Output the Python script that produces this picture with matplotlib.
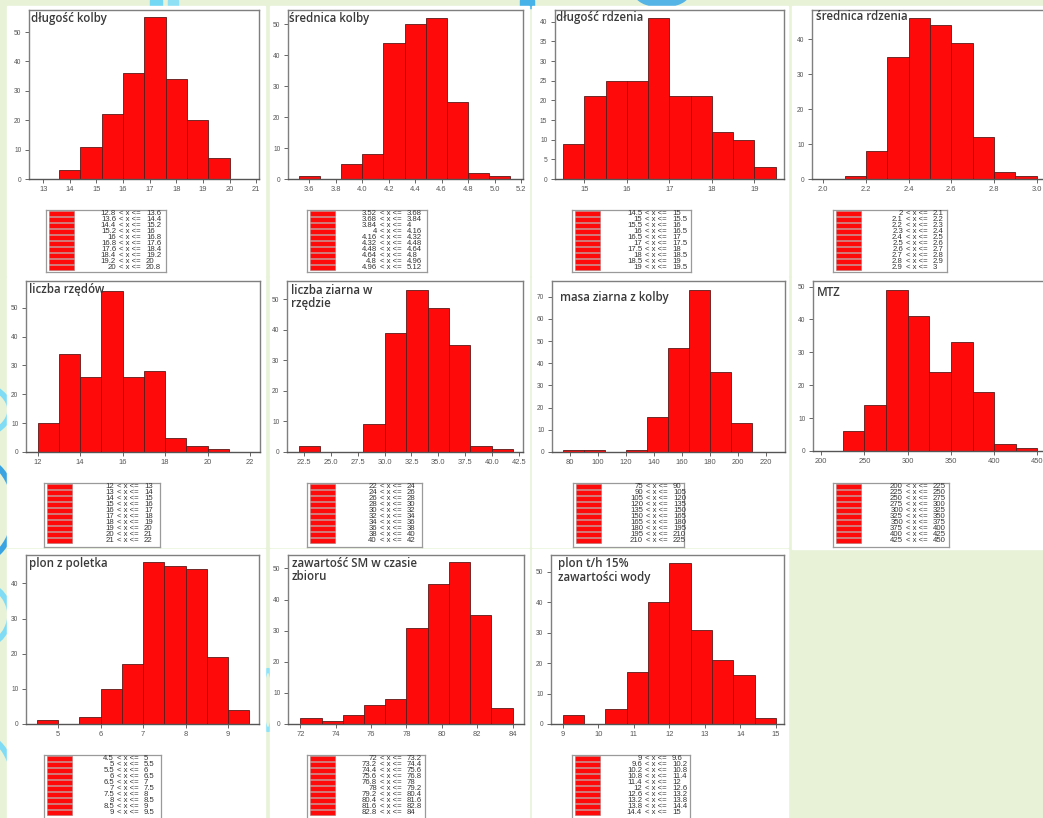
import matplotlib
matplotlib.use("Agg")
import matplotlib.pyplot as plt
from matplotlib.patches import Rectangle, Ellipse

W, H = 1043, 818

# ---------------- data: bin edges and counts of each histogram ----------------
dlugosc_kolby_edges = [12.8, 13.6, 14.4, 15.2, 16, 16.8, 17.6, 18.4, 19.2, 20, 20.8]
dlugosc_kolby_counts = [0, 3, 11, 22, 36, 55, 34, 20, 7, 0]
dlugosc_kolby_xticks = [13, 14, 15, 16, 17, 18, 19, 20, 21]
dlugosc_kolby_yticks = [0, 10, 20, 30, 40, 50]

srednica_kolby_edges = [3.52, 3.68, 3.84, 4, 4.16, 4.32, 4.48, 4.64, 4.8, 4.96, 5.12]
srednica_kolby_counts = [1, 0, 5, 8, 44, 50, 52, 25, 2, 1]
srednica_kolby_xticks = [3.6, 3.8, 4.0, 4.2, 4.4, 4.6, 4.8, 5.0, 5.2]
srednica_kolby_yticks = [0, 10, 20, 30, 40, 50]

dlugosc_rdzenia_edges = [14.5, 15, 15.5, 16, 16.5, 17, 17.5, 18, 18.5, 19, 19.5]
dlugosc_rdzenia_counts = [9, 21, 25, 25, 41, 21, 21, 12, 10, 3]
dlugosc_rdzenia_xticks = [15, 16, 17, 18, 19]
dlugosc_rdzenia_yticks = [0, 5, 10, 15, 20, 25, 30, 35, 40]

srednica_rdzenia_edges = [2, 2.1, 2.2, 2.3, 2.4, 2.5, 2.6, 2.7, 2.8, 2.9, 3]
srednica_rdzenia_counts = [0, 1, 8, 35, 46, 44, 39, 12, 2, 1]
srednica_rdzenia_xticks = [2.0, 2.2, 2.4, 2.6, 2.8, 3.0]
srednica_rdzenia_yticks = [0, 10, 20, 30, 40]

liczba_rzedow_edges = [12, 13, 14, 15, 16, 17, 18, 19, 20, 21, 22]
liczba_rzedow_counts = [10, 34, 26, 56, 26, 28, 5, 2, 1, 0]
liczba_rzedow_xticks = [12, 14, 16, 18, 20, 22]
liczba_rzedow_yticks = [0, 10, 20, 30, 40, 50]

liczba_ziarna_edges = [22, 24, 26, 28, 30, 32, 34, 36, 38, 40, 42]
liczba_ziarna_counts = [2, 0, 0, 9, 39, 53, 47, 35, 2, 1]
liczba_ziarna_xticks = [22.5, 25.0, 27.5, 30.0, 32.5, 35.0, 37.5, 40.0, 42.5]
liczba_ziarna_yticks = [0, 10, 20, 30, 40, 50]

masa_ziarna_edges = [75, 90, 105, 120, 135, 150, 165, 180, 195, 210, 225]
masa_ziarna_counts = [1, 1, 0, 1, 16, 47, 73, 36, 13, 0]
masa_ziarna_xticks = [80, 100, 120, 140, 160, 180, 200, 220]
masa_ziarna_yticks = [0, 10, 20, 30, 40, 50, 60, 70]

mtz_edges = [200, 225, 250, 275, 300, 325, 350, 375, 400, 425, 450]
mtz_counts = [0, 6, 14, 49, 41, 24, 33, 18, 2, 1]
mtz_xticks = [200, 250, 300, 350, 400, 450]
mtz_yticks = [0, 10, 20, 30, 40, 50]

plon_poletka_edges = [4.5, 5, 5.5, 6, 6.5, 7, 7.5, 8, 8.5, 9, 9.5]
plon_poletka_counts = [1, 0, 2, 10, 17, 46, 45, 44, 19, 4]
plon_poletka_xticks = [5, 6, 7, 8, 9]
plon_poletka_yticks = [0, 10, 20, 30, 40]

zawartosc_sm_edges = [72, 73.2, 74.4, 75.6, 76.8, 78, 79.2, 80.4, 81.6, 82.8, 84]
zawartosc_sm_counts = [2, 1, 3, 6, 8, 31, 45, 52, 35, 5]
zawartosc_sm_xticks = [72, 74, 76, 78, 80, 82, 84]
zawartosc_sm_yticks = [0, 10, 20, 30, 40, 50]

plon_th_edges = [9, 9.6, 10.2, 10.8, 11.4, 12, 12.6, 13.2, 13.8, 14.4, 15]
plon_th_counts = [3, 0, 5, 17, 40, 53, 31, 21, 16, 2]
plon_th_xticks = [9, 10, 11, 12, 13, 14, 15]
plon_th_yticks = [0, 10, 20, 30, 40, 50]

titles = ["długość kolby", "średnica kolby", "długość rdzenia", "średnica rdzenia",
          "liczba rzędów", "liczba ziarna w\nrzędzie", "masa ziarna z kolby", "MTZ",
          "plon z poletka", "zawartość SM w czasie\nzbioru", "plon t/h 15%\nzawartości wody"]

panels = [
    (dlugosc_kolby_edges, dlugosc_kolby_counts, dlugosc_kolby_xticks, dlugosc_kolby_yticks, "{:.0f}"),
    (srednica_kolby_edges, srednica_kolby_counts, srednica_kolby_xticks, srednica_kolby_yticks, "{:.1f}"),
    (dlugosc_rdzenia_edges, dlugosc_rdzenia_counts, dlugosc_rdzenia_xticks, dlugosc_rdzenia_yticks, "{:.0f}"),
    (srednica_rdzenia_edges, srednica_rdzenia_counts, srednica_rdzenia_xticks, srednica_rdzenia_yticks, "{:.1f}"),
    (liczba_rzedow_edges, liczba_rzedow_counts, liczba_rzedow_xticks, liczba_rzedow_yticks, "{:.0f}"),
    (liczba_ziarna_edges, liczba_ziarna_counts, liczba_ziarna_xticks, liczba_ziarna_yticks, "{:.1f}"),
    (masa_ziarna_edges, masa_ziarna_counts, masa_ziarna_xticks, masa_ziarna_yticks, "{:.0f}"),
    (mtz_edges, mtz_counts, mtz_xticks, mtz_yticks, "{:.0f}"),
    (plon_poletka_edges, plon_poletka_counts, plon_poletka_xticks, plon_poletka_yticks, "{:.0f}"),
    (zawartosc_sm_edges, zawartosc_sm_counts, zawartosc_sm_xticks, zawartosc_sm_yticks, "{:.0f}"),
    (plon_th_edges, plon_th_counts, plon_th_xticks, plon_th_yticks, "{:.0f}"),
]

# ---------------- layout (pixels) ----------------
# plot frame: left, top, right, bottom ; x-limits ; y upper limit
frames = [
    ((29, 10, 259, 179), (12.47, 21.1), 57.5),
    ((288, 10, 523, 179), (3.44, 5.215), 54.6),
    ((555, 10, 784, 179), (14.31, 19.70), 43.0),
    ((812, 10, 1052, 179), (1.947, 3.072), 48.3),
    ((26, 281, 260, 452), (11.45, 22.47), 59.3),
    ((287, 281, 523, 452), (20.89, 42.9), 55.9),
    ((552, 281, 785, 452), (67.4, 233.8), 77.1),
    ((813, 281, 1052, 451), (190.4, 467.0), 51.7),
    ((26, 555, 259, 724), (4.24, 9.73), 48.06),
    ((288, 555, 524, 724), (71.3, 84.65), 54.3),
    ((551, 555, 784, 724), (8.67, 15.23), 55.5),
]
# title offset from the frame's top-left corner (px)
title_offsets = [(2, 2), (1, 2), (1, 1.5), (3.5, 0), (3, 2.5), (4, 3), (8, 10),
                 (4, 5), (3, 2.5), (4, 2), (6.5, 2)]
# legend boxes: left, top, right, bottom
legend_boxes = [
    (46, 210, 166, 272), (307, 210, 427, 272), (572, 210, 691, 272), (833, 210, 947, 272),
    (44, 483, 160, 547), (307, 483, 422, 547), (573, 483, 684, 547), (833, 483, 949, 547),
    (44, 755, 161, 821), (307, 755, 425, 821), (572, 755, 690, 821),
]
cards = [
    (7, 6, 265, 276), (270, 6, 529, 276), (532, 6, 788, 276), (792, 6, 1043, 276),
    (7, 277, 265, 547), (270, 277, 529, 547), (532, 277, 788, 547), (792, 277, 1043, 549),
    (7, 549, 265, 818), (270, 549, 529, 818), (532, 549, 788, 818),
]

BG = "#e7f2d7"
RED = "#fe0a0a"
EDGE = "#5c1a1a"
FRAME = "#7f7f7f"
TXT = "#3a3a3a"


def fig_rect(l, t, r, b):
    return [l / W, 1 - b / H, (r - l) / W, (b - t) / H]


fig = plt.figure(figsize=(W / 100, H / 100), dpi=100)
fig.patch.set_facecolor(BG)

# slide decoration peeking out behind the cards
deco = [
    Rectangle((150 / W, 1 - 8 / H), 12 / W, 8 / H, color="#72d8f3"),
    Rectangle((168 / W, 1 - 8 / H), 10 / W, 8 / H, color="#8fe0f5"),
    Rectangle((520 / W, 1 - 8 / H), 14 / W, 8 / H, color="#46b2e8"),
    Ellipse((662 / W, 1 + 8 / H), 56 / W, 30 / H, color="#55b4e6"),
    Ellipse((-40 / W, 1 - 410 / H), 100 / W, 60 / H, fill=False, ec="#7fdcf4", lw=4),
    Ellipse((-30 / W, 1 - 510 / H), 90 / W, 110 / H, fill=False, ec="#3aa3e2", lw=4),
    Ellipse((-30 / W, 1 - 615 / H), 80 / W, 70 / H, fill=False, ec="#7fdcf4", lw=4),
    Ellipse((-20 / W, 1 - 790 / H), 70 / W, 110 / H, fill=False, ec="#7fdcf4", lw=4),
    Ellipse((268 / W, 1 - 700 / H), 12 / W, 60 / H, fill=False, ec="#8fe3f6", lw=3),
]
for p in deco:
    p.set_transform(fig.transFigure)
    p.set_zorder(0)
    fig.add_artist(p)

for (l, t, r, b) in cards:
    fig.add_artist(Rectangle((l / W, 1 - b / H), (r - l) / W, (b - t) / H,
                             transform=fig.transFigure, color="white", zorder=1))


def fmt_edge(v):
    return "{:g}".format(v)


for i, (edges, counts, xticks, yticks, xfmt) in enumerate(panels):
    (rect, xlim, ytop) = frames[i]
    ax = fig.add_axes(fig_rect(*rect), zorder=2)
    ax.set_facecolor("white")
    widths = [edges[k + 1] - edges[k] for k in range(len(counts))]
    ax.bar(edges[:-1], counts, width=widths, align="edge", color=RED,
           edgecolor=EDGE, linewidth=0.6, zorder=2)
    ax.set_xlim(*xlim)
    ax.set_ylim(0, ytop)
    ax.set_xticks(xticks)
    ax.set_xticklabels([xfmt.format(v) for v in xticks])
    ax.set_yticks(yticks)
    ax.set_yticklabels(["{:d}".format(v) for v in yticks])
    for s in ax.spines.values():
        s.set_color(FRAME)
        s.set_linewidth(1.0)
    ax.spines["bottom"].set_color("#555555")
    ax.tick_params(axis="x", length=3, width=0.7, color="#666666", pad=2,
                   labelsize=5.4, labelcolor="#555555")
    ax.tick_params(axis="y", length=3, width=0.7, color="#666666", pad=2.5,
                   labelsize=4.8, labelcolor="#555555")
    for lab in ax.get_xticklabels() + ax.get_yticklabels():
        lab.set_family("Liberation Sans")

    # title inside the frame
    dx, dy = title_offsets[i]
    l, t, r, b = rect
    ax.text(dx / (r - l), 1 - dy / (b - t), titles[i], transform=ax.transAxes,
            ha="left", va="top", fontsize=8.3, family="Open Sans",
            fontweight="semibold", color=TXT, linespacing=1.05, zorder=5)

    # legend box listing each bin
    ll, lt, lr, lb = legend_boxes[i]
    lax = fig.add_axes(fig_rect(ll, lt, lr, lb), zorder=2)
    lax.set_xlim(0, lr - ll)
    lax.set_ylim(lb - lt, 0)
    lax.set_xticks([])
    lax.set_yticks([])
    for s in lax.spines.values():
        s.set_color("#9a9a9a")
        s.set_linewidth(0.9)
    pitch = 6.0
    for k in range(len(counts)):
        yc = 3.6 + k * pitch
        lax.add_patch(Rectangle((3, yc - 2.5), 25, 5.0, facecolor=RED,
                                edgecolor="#b07070", linewidth=0.4))
        lo, hi = fmt_edge(edges[k]), fmt_edge(edges[k + 1])
        kw = dict(fontsize=5.6, family="Liberation Sans", color="#333333", va="center")
        lax.text(70, yc, lo, ha="right", **kw)
        lax.text(73, yc, "< x <=", ha="left", **kw)
        lax.text(100, yc, hi, ha="left", **kw)

fig.savefig("out.png", dpi=100, facecolor=BG)
